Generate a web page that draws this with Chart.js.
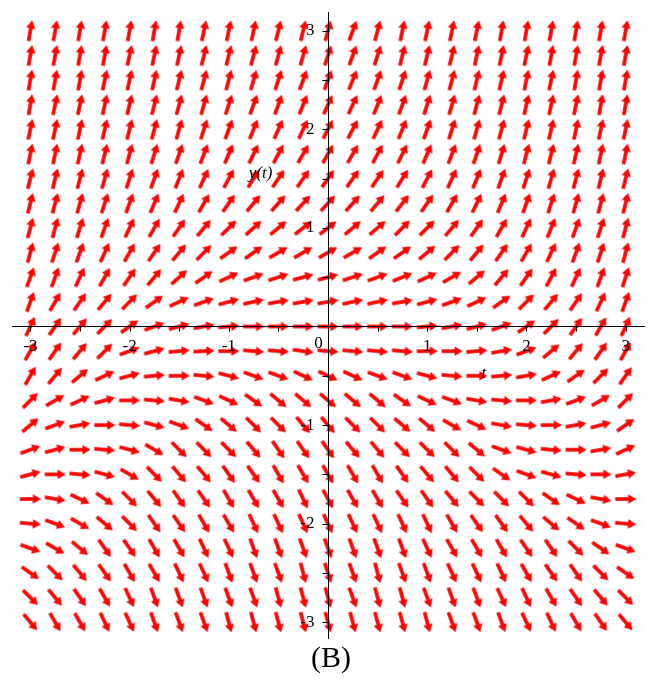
<!DOCTYPE html>
<html>
<head>
<meta charset="utf-8">
<script src="https://cdn.jsdelivr.net/npm/chart.js@4.4.1/dist/chart.umd.min.js"></script>
<style>
html,body{margin:0;padding:0;background:#ffffff;}
#wrap{width:657px;height:679px;}
</style>
</head>
<body>
<div id="wrap"><canvas id="c" width="657" height="679"></canvas></div>
<script>
// ---- grid of the direction field ----
const tValues = [-3,-2.75,-2.5,-2.25,-2,-1.75,-1.5,-1.25,-1,-0.75,-0.5,-0.25,0,0.25,0.5,0.75,1,1.25,1.5,1.75,2,2.25,2.5,2.75,3];
const yValues = [3,2.75,2.5,2.25,2,1.75,1.5,1.25,1,0.75,0.5,0.25,0,-0.25,-0.5,-0.75,-1,-1.25,-1.5,-1.75,-2,-2.25,-2.5,-2.75,-3];

// ---- arrow directions (degrees, counter-clockwise from +t), one array per row ----
const A_p300 = [80,80,80,80,80,80,80,78,78,78,76,76,75,70,75,78,78,78,78,80,80,80,80,80,80];
const A_p275 = [80,80,80,80,78,78,78,76,76,75,75,74,72,70,72,76,76,76,78,78,78,80,80,80,80];
const A_p250 = [80,80,80,78,78,77,76,75,75,74,72,70,70,68,70,72,74,75,76,77,78,78,80,80,80];
const A_p225 = [80,78,78,78,77,76,75,74,72,70,70,68,66,65,68,70,72,74,75,76,77,78,78,80,80];
const A_p200 = [78,78,78,77,76,75,74,72,70,68,66,65,63,62,65,68,70,72,74,75,76,77,78,78,78];
const A_p175 = [78,78,77,76,75,73,71,69,67,64,62,60,60,60,62,64,67,69,71,73,75,76,77,78,78];
const A_p150 = [76,76,75,74,72,70,68,65,62,58,56,55,55,55,56,58,62,65,68,70,72,74,75,76,76];
const A_p125 = [76,75,74,72,70,67,65,60,55,50,48,47,47,48,50,52,55,60,64,67,70,72,74,75,76];
const A_p100 = [75,75,72,70,65,60,55,50,45,42,40,38,38,40,40,45,45,50,55,60,65,68,70,72,75];
const A_p075 = [75,72,70,65,60,55,50,45,35,35,30,30,30,30,35,35,40,45,50,55,60,65,70,72,75];
const A_p050 = [70,70,65,60,55,50,42,35,25,20,18,15,15,18,20,22,25,30,40,50,55,62,65,70,72];
const A_p025 = [70,60,55,50,45,35,25,20,15,12,10,10,10,12,12,10,15,20,25,35,45,50,55,65,70];
const A_000  = [65,55,50,45,35,20,15,10,5,0,0,0,0,0,0,0,5,10,15,20,35,45,55,60,65];
const A_m025 = [60,55,50,45,20,15,5,3,0,-5,-5,-8,-5,-5,-5,-5,0,0,5,10,20,40,50,55,60];
const A_m050 = [60,50,40,25,15,5,0,-5,-15,-20,-20,-25,-25,-25,-20,-20,-15,-5,0,5,10,25,35,45,55];
const A_m075 = [45,30,25,15,0,-5,-10,-20,-25,-35,-40,-40,-40,-40,-40,-35,-25,-20,-10,-5,0,10,20,30,45];
const A_m100 = [40,20,10,0,-5,-15,-20,-35,-40,-45,-45,-50,-50,-45,-45,-40,-40,-30,-25,-10,-5,0,10,15,35];
const A_m125 = [20,15,0,-5,-15,-30,-45,-45,-45,-50,-55,-55,-55,-50,-50,-45,-45,-45,-40,-20,-15,-5,0,10,25];
const A_m150 = [15,0,-5,-15,-30,-45,-50,-50,-55,-55,-60,-60,-60,-60,-60,-55,-50,-50,-45,-35,-20,-15,-5,0,10];
const A_m175 = [0,-10,-25,-35,-45,-50,-55,-55,-60,-60,-60,-65,-62,-60,-60,-55,-55,-50,-45,-45,-45,-35,-25,-10,0];
const A_m200 = [-5,-20,-30,-40,-45,-55,-55,-60,-60,-65,-65,-65,-65,-65,-65,-65,-65,-60,-55,-55,-50,-40,-35,-20,-5];
const A_m225 = [-20,-30,-40,-55,-55,-60,-60,-65,-65,-70,-70,-70,-70,-70,-70,-70,-65,-60,-60,-60,-55,-55,-45,-35,-20];
const A_m250 = [-35,-45,-50,-55,-60,-60,-65,-65,-70,-70,-70,-75,-72,-70,-75,-70,-70,-65,-65,-65,-60,-55,-55,-45,-35];
const A_m275 = [-45,-50,-55,-60,-65,-70,-70,-70,-70,-70,-75,-75,-75,-70,-75,-75,-70,-70,-70,-65,-65,-60,-55,-50,-45];
const A_m300 = [-50,-60,-60,-65,-65,-70,-70,-70,-75,-75,-75,-75,-75,-75,-75,-75,-75,-70,-70,-70,-65,-65,-60,-55,-50];
const angleRows = [A_p300,A_p275,A_p250,A_p225,A_p200,A_p175,A_p150,A_p125,A_p100,A_p075,A_p050,A_p025,A_000,
                   A_m025,A_m050,A_m075,A_m100,A_m125,A_m150,A_m175,A_m200,A_m225,A_m250,A_m275,A_m300];

// ---- axes ----
const xTickValues = [-3,-2.5,-2,-1.5,-1,-0.5,0,0.5,1,1.5,2,2.5,3];
const yTickValues = [-3,-2.5,-2,-1.5,-1,-0.5,0,0.5,1,1.5,2,2.5,3];
const xLabelValues = [-3,-2,-1,1,2,3];
const xLabelTexts = ['-3','-2','-1','1','2','3'];
const yLabelValues = [3,2,1,-1,-2,-3];
const yLabelTexts = ['3','2','1','-1','-2','-3'];
const originLabel = '0';
const xAxisTitle = 't';
const yAxisTitle = 'y(t)';
const captionText = '(B)';

// ---- arrow glyph ----
function makeArrow() {
  const c = document.createElement('canvas');
  c.width = 24; c.height = 12;
  const g = c.getContext('2d');
  g.fillStyle = '#ff0000';
  g.fillRect(1.5, 4.2, 14.5, 3.6);
  g.beginPath();
  g.moveTo(22.5, 6);
  g.lineTo(14.5, 1.2);
  g.lineTo(14.5, 10.8);
  g.closePath();
  g.fill();
  return c;
}
const arrowImg = makeArrow();

const points = [];
const rotations = [];
yValues.forEach((yv, r) => {
  tValues.forEach((tv, k) => {
    points.push({x: tv, y: yv});
    rotations.push(-angleRows[r][k]);
  });
});

const SERIF = '"Liberation Serif", "Times New Roman", serif';

const axesPlugin = {
  id: 'mapleAxes',
  afterDatasetsDraw(chart) {
    const {ctx, chartArea} = chart;
    const xs = chart.scales.x, ys = chart.scales.y;
    const x0 = Math.round(xs.getPixelForValue(0)) + 0.5;
    const y0 = Math.round(ys.getPixelForValue(0)) + 0.5;
    ctx.save();
    ctx.strokeStyle = '#000000';
    ctx.lineWidth = 1;
    ctx.beginPath();
    ctx.moveTo(chartArea.left, y0); ctx.lineTo(chartArea.right, y0);
    ctx.moveTo(x0, chartArea.top); ctx.lineTo(x0, chartArea.bottom);
    xTickValues.forEach(v => {
      const px = Math.round(xs.getPixelForValue(v)) + 0.5;
      ctx.moveTo(px, y0); ctx.lineTo(px, y0 + 5);
    });
    yTickValues.forEach(v => {
      const py = Math.round(ys.getPixelForValue(v)) + 0.5;
      ctx.moveTo(x0, py); ctx.lineTo(x0 - 6, py);
    });
    ctx.stroke();

    ctx.fillStyle = '#000000';
    ctx.font = '17px ' + SERIF;
    ctx.textBaseline = 'middle';
    ctx.textAlign = 'center';
    xLabelValues.forEach((v, i) => ctx.fillText(xLabelTexts[i], xs.getPixelForValue(v), y0 + 20));
    ctx.fillText(originLabel, x0 - 10, y0 + 17);
    ctx.textAlign = 'right';
    yLabelValues.forEach((v, i) => ctx.fillText(yLabelTexts[i], x0 - 14, ys.getPixelForValue(v)));

    ctx.font = 'italic 17px ' + SERIF;
    ctx.textAlign = 'center';
    ctx.fillText(yAxisTitle, xs.getPixelForValue(-0.68), ys.getPixelForValue(1.55));
    ctx.fillText(xAxisTitle, xs.getPixelForValue(1.57), ys.getPixelForValue(-0.48));
    ctx.restore();
  }
};

new Chart(document.getElementById('c'), {
  type: 'scatter',
  data: {
    datasets: [{
      data: points,
      pointStyle: arrowImg,
      pointRotation: rotations,
      pointRadius: 11,
      pointHoverRadius: 11,
      showLine: false
    }]
  },
  options: {
    responsive: false,
    animation: false,
    events: [],
    devicePixelRatio: 1,
    layout: {padding: {left: 12, right: 7, top: 3, bottom: 0}},
    scales: {
      x: {type: 'linear', min: -3.185, max: 3.195, display: false},
      y: {type: 'linear', min: -3.17, max: 3.19, display: false}
    },
    plugins: {
      legend: {display: false},
      tooltip: {enabled: false},
      title: {
        display: true,
        position: 'bottom',
        text: captionText,
        color: '#000000',
        font: {family: SERIF, size: 30, weight: 'normal', lineHeight: 1.2},
        padding: {top: 2, bottom: 2}
      }
    }
  },
  plugins: [axesPlugin]
});
</script>
</body>
</html>
